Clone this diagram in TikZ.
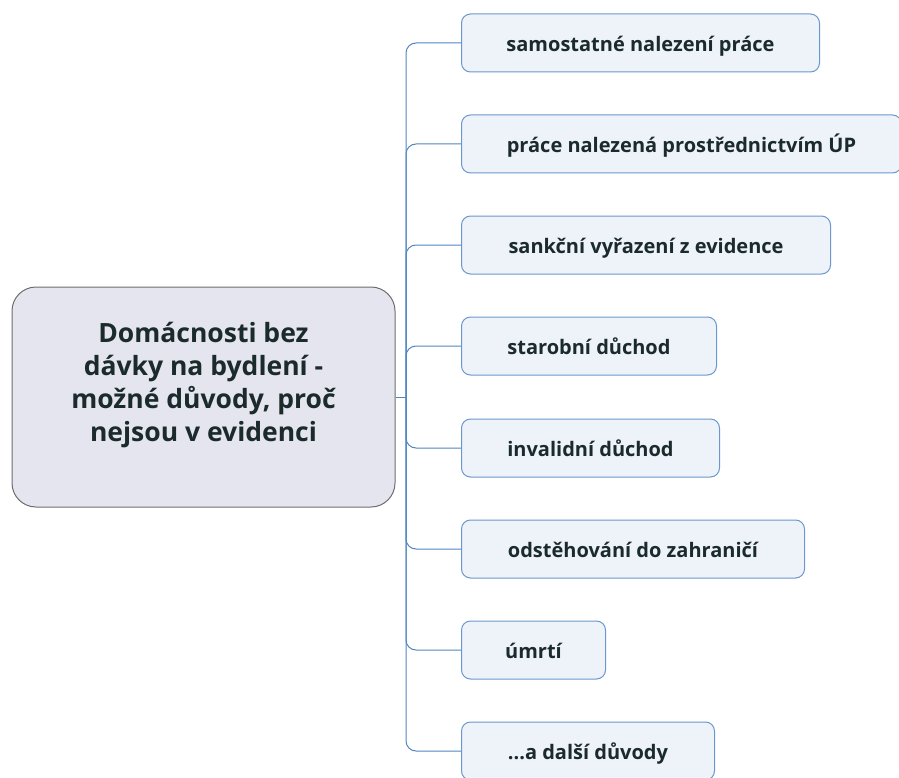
\documentclass[tikz,border=0pt]{standalone}
\usepackage{fontspec}
\setmainfont{Open Sans}
\definecolor{rootfill}{HTML}{E5E5EF}
\definecolor{rootline}{HTML}{6E6E6E}
\definecolor{boxfill}{HTML}{EEF3FA}
\definecolor{boxline}{HTML}{6A98CE}
\definecolor{linkblue}{HTML}{5085C0}
\definecolor{textdark}{HTML}{1B2B2B}

\begin{document}
\begin{tikzpicture}[x=1pt,y=-1pt,
  topic/.style={draw=rootline,fill=rootfill,line width=1pt,rounded corners=24pt,minimum width=383pt,minimum height=220pt},
  reason/.style={draw=boxline,fill=boxfill,line width=1pt,rounded corners=9pt,anchor=west,inner xsep=0pt,minimum height=58pt,text height=17pt,text depth=0pt,text=textdark,font=\bfseries\fontsize{20}{24}\selectfont},
  branch/.style={draw=linkblue,line width=1pt,rounded corners=10pt}]

\useasboundingbox (0,0) rectangle (899,778);

\node[topic] (home) at (203.5,397) {};
\node[text=textdark,align=center,font=\bfseries\fontsize{26.5}{33}\selectfont] (hometext) at (203.5,385)
  {Domácnosti bez\\dávky na bydlení -\\možné důvody, proč\\nejsou v evidenci};

\node[reason,minimum width=358pt] (r1) at (461,43) {samostatné nalezení práce};
\node[reason,minimum width=440pt] (r2) at (461,144) {práce nalezená prostřednictvím ÚP};
\node[reason,minimum width=369pt] (r3) at (461,245) {sankční vyřazení z evidence};
\node[reason,minimum width=255pt] (r4) at (461,346) {starobní důchod};
\node[reason,minimum width=258pt] (r5) at (461,448) {invalidní důchod};
\node[reason,minimum width=343pt] (r6) at (461,549) {odstěhování do zahraničí};
\node[reason,minimum width=144pt] (r7) at (461,650) {úmrtí};
\node[reason,minimum width=253pt] (r8) at (461,751) {...a další důvody};

\coordinate (hub) at (406,397);
\draw[linkblue,line width=1pt] (home.east) -- (hub);

\draw[branch] (hub) -- (hub |- r1.west) -- (r1.west);
\draw[branch] (hub) -- (hub |- r2.west) -- (r2.west);
\draw[branch] (hub) -- (hub |- r3.west) -- (r3.west);
\draw[branch] (hub) -- (hub |- r4.west) -- (r4.west);
\draw[branch] (hub) -- (hub |- r5.west) -- (r5.west);
\draw[branch] (hub) -- (hub |- r6.west) -- (r6.west);
\draw[branch] (hub) -- (hub |- r7.west) -- (r7.west);
\draw[branch] (hub) -- (hub |- r8.west) -- (r8.west);

\end{tikzpicture}
\end{document}
